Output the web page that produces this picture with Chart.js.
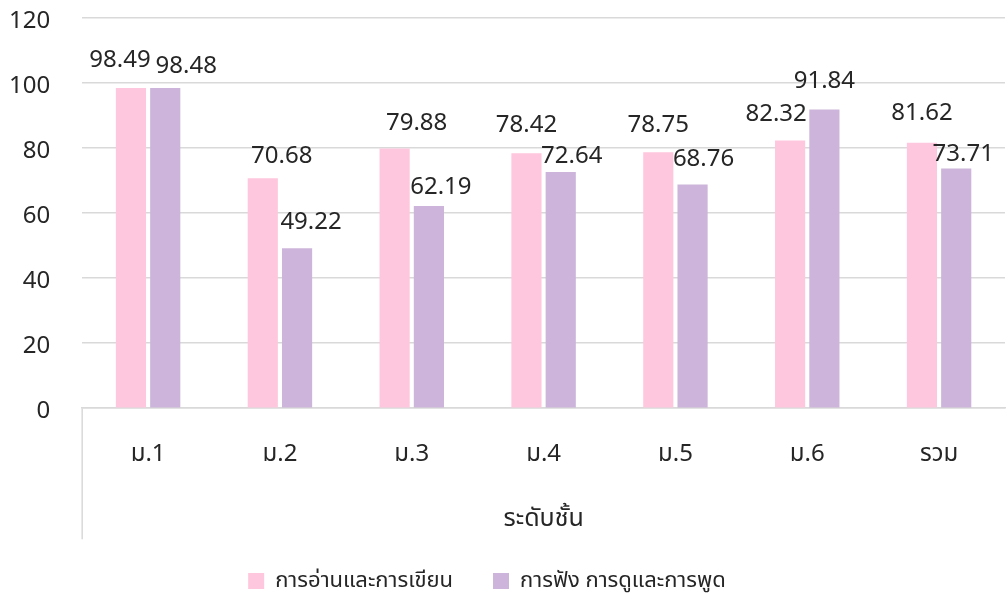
<!DOCTYPE html>
<html>
<head>
<meta charset="utf-8">
<script src="https://cdn.jsdelivr.net/npm/chart.js@4.4.0/dist/chart.umd.min.js"></script>
<style>
    html, body { margin: 0; padding: 0; background: #fff; }
    #wrap { width: 1006px; height: 599px; }
</style>
</head>
<body>
<div id="wrap"><canvas id="gradeChart"></canvas></div>
<script>
// Scores per grade level
const labels = ['ม.1', 'ม.2', 'ม.3', 'ม.4', 'ม.5', 'ม.6', 'รวม'];
const reading = [98.49, 70.68, 79.88, 78.42, 78.75, 82.32, 81.62];
const listening = [98.48, 49.22, 62.19, 72.64, 68.76, 91.84, 73.71];

// Label nudges [dx, gap above bar] so they sit like the original layout
const labelPos = [
    [[-11, 21], [19, 15], [22, 18], [0, 21], [0, 20], [-14, 20], [0, 23]],
    [[21, 15], [14, 19], [12, 12], [11, 9], [11, 19], [0, 22], [7, 8]]
];

const FONT = "'Noto Sans', 'Noto Sans Thai', 'DejaVu Sans', sans-serif";
const TEXT = '#262626';

// Draw value labels above each bar
const valueLabels = {
    id: 'valueLabels',
    afterDatasetsDraw(chart) {
        const ctx = chart.ctx;
        ctx.save();
        ctx.font = '24px ' + FONT;
        ctx.fillStyle = TEXT;
        ctx.textAlign = 'center';
        ctx.textBaseline = 'alphabetic';
        chart.data.datasets.forEach((ds, i) => {
            chart.getDatasetMeta(i).data.forEach((bar, j) => {
                const [dx, gap] = labelPos[i][j];
                ctx.fillText(ds.data[j].toFixed(2), bar.x + dx, bar.y - gap);
            });
        });
        ctx.restore();
    }
};

// Left border line under the category axis, and legend nudged a bit left
const axisFrame = {
    id: 'axisFrame',
    afterLayout(chart) {
        chart.legend.left -= 4;
        chart.legend.right -= 4;
    },
    afterDraw(chart) {
        const ctx = chart.ctx;
        const x = chart.scales.x;
        ctx.save();
        ctx.strokeStyle = '#d9d9d9';
        ctx.lineWidth = 1.5;
        ctx.beginPath();
        ctx.moveTo(x.left, x.top);
        ctx.lineTo(x.left, x.top + 131);
        ctx.stroke();
        ctx.restore();
    }
};

new Chart(document.getElementById('gradeChart').getContext('2d'), {
    type: 'bar',
    data: {
        labels: labels,
        datasets: [
            {
                label: 'การอ่านและการเขียน',
                data: reading,
                backgroundColor: '#ffc7dd'
            },
            {
                label: 'การฟัง การดูและการพูด',
                data: listening,
                backgroundColor: '#ccb4da'
            }
        ]
    },
    options: {
        responsive: true,
        maintainAspectRatio: false,
        animation: false,
        layout: { padding: { top: 18, right: 1, left: -23, bottom: -3 } },
        datasets: {
            bar: { categoryPercentage: 0.52, barPercentage: 0.88 }
        },
        scales: {
            y: {
                min: 0,
                max: 120,
                afterFit(scale) {
                    // tick padding should not push the plot down
                    scale.paddingTop = 0;
                    scale.paddingBottom = 0;
                },
                ticks: {
                    stepSize: 20,
                    padding: 32,
                    labelOffset: 3,
                    color: TEXT,
                    font: { size: 24, family: FONT }
                },
                grid: { color: '#d9d9d9', lineWidth: 1.5, drawTicks: false },
                border: { display: false }
            },
            x: {
                ticks: {
                    color: TEXT,
                    padding: 24,
                    font: { size: 24, family: FONT }
                },
                grid: { display: false },
                border: { color: '#d9d9d9', width: 1.5 },
                title: {
                    display: true,
                    text: 'ระดับชั้น',
                    color: TEXT,
                    padding: { top: 11, bottom: -4 },
                    font: { size: 25, family: FONT }
                }
            }
        },
        plugins: {
            legend: {
                position: 'bottom',
                labels: {
                    boxWidth: 16,
                    boxHeight: 16,
                    padding: 40,
                    color: TEXT,
                    font: { size: 22, family: FONT }
                }
            },
            tooltip: { enabled: false }
        }
    },
    plugins: [valueLabels, axisFrame]
});
</script>
</body>
</html>
